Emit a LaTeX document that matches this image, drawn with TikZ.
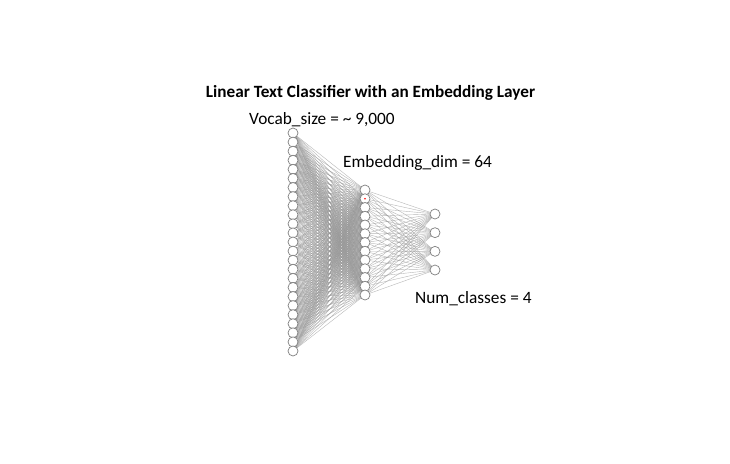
\documentclass[tikz,border=0pt]{standalone}
\usepackage{fontspec}
\setmainfont{Carlito}
\begin{document}
\begin{tikzpicture}[x=1pt,y=-1pt,
  neuron/.style={circle,draw=black!50,fill=white,line width=0.7pt,minimum size=10pt,inner sep=0pt},
  conn/.style={draw=black!40,line width=0.4pt,opacity=0.7},
  lbl/.style={anchor=base west,inner sep=0pt,font=\fontsize{17.3}{20}\selectfont},
  ttl/.style={anchor=base,inner sep=0pt,font=\fontsize{17.2}{20}\selectfont\bfseries}]
\useasboundingbox[fill=white] (0,0) rectangle (730,463);
% layers
\foreach \i in {0,...,24} {\path (293,{133+\i*9.083}) coordinate (pa\i);}
\foreach \j in {0,...,12} {\path (365,{190+\j*8.75}) coordinate (pb\j);}
\foreach \k in {0,...,3} {\path (435,{214+\k*18.67}) coordinate (pc\k);}
% connections
\foreach \i in {0,...,24} {\foreach \j in {0,...,12} {\draw[conn] (pa\i) -- (pb\j);}}
\foreach \j in {0,...,12} {\foreach \k in {0,...,3} {\draw[conn] (pb\j) -- (pc\k);}}
% neurons
\foreach \i in {0,...,24} {\node[neuron] (a\i) at (pa\i) {};}
\foreach \j in {0,...,12} {\node[neuron] (b\j) at (pb\j) {};}
\foreach \k in {0,...,3} {\node[neuron] (c\k) at (pc\k) {};}
\fill[red] (b1.center) circle (0.9);
% labels
\node[ttl] (title) at (370.5,97) {Linear Text Classifier with an Embedding Layer};
\node[lbl] (vocab) at (249,124.5) {Vocab\_size = \textasciitilde{} 9,000};
\node[lbl] (emb) at (343,167) {Embedding\_dim = 64};
\node[lbl] (num) at (415,303.5) {Num\_classes = 4};
\end{tikzpicture}
\end{document}
